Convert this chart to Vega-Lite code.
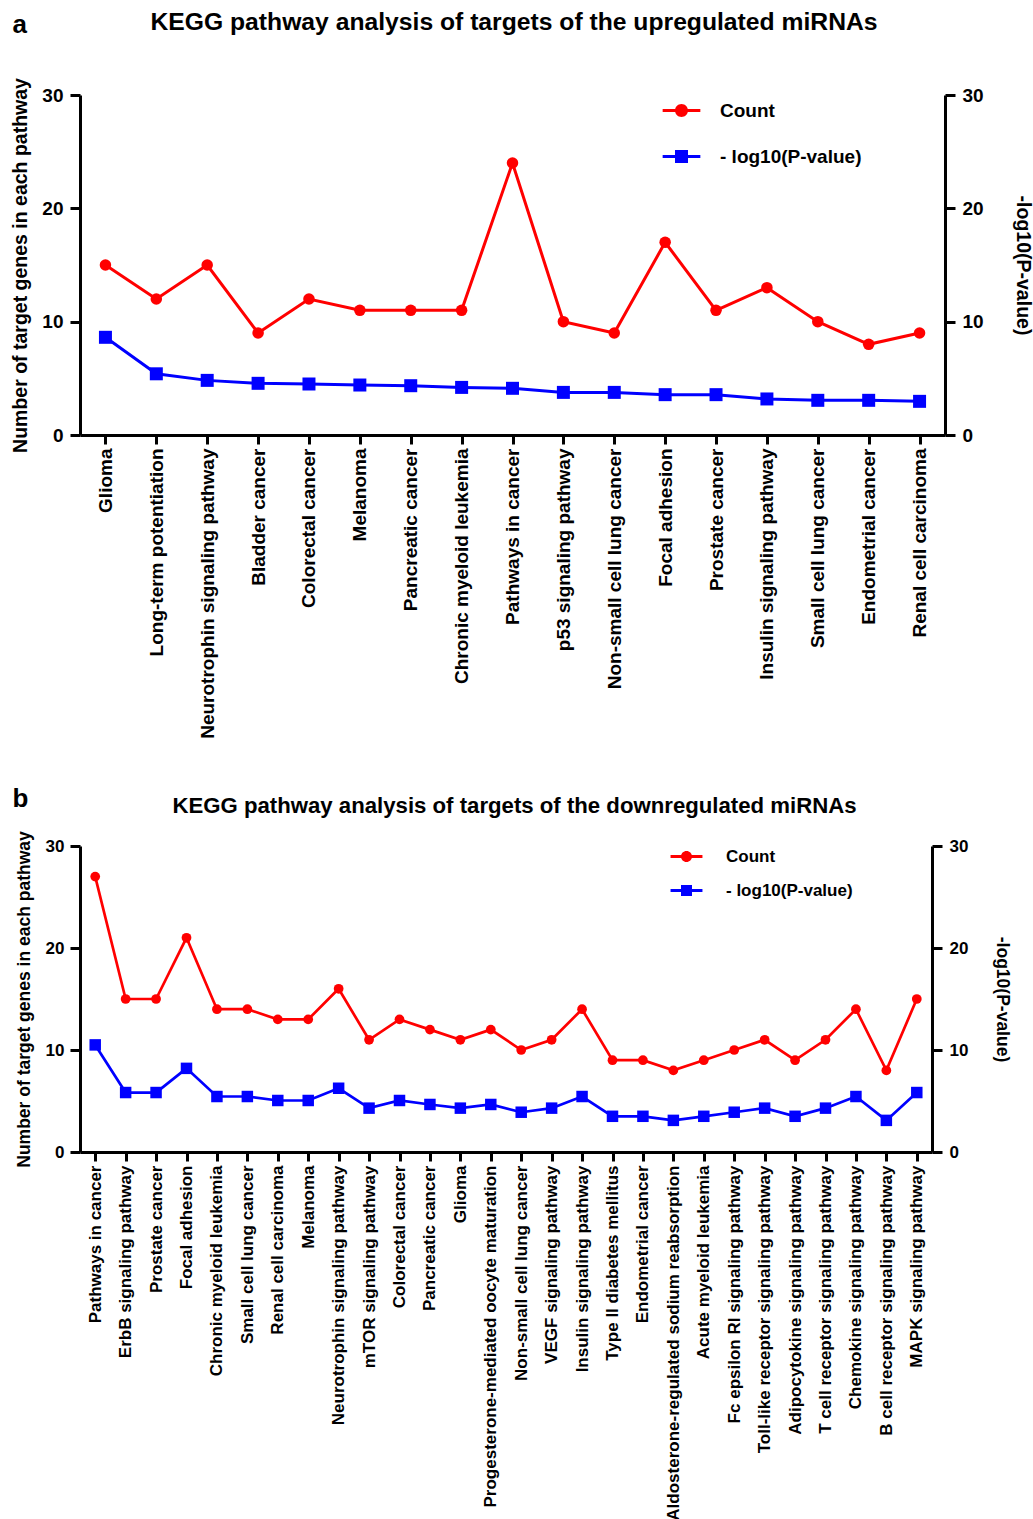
{
  "$schema": "https://vega.github.io/schema/vega-lite/v6.json",
  "padding": {"left": 10, "top": 9, "right": 2, "bottom": 0},
  "spacing": 46,
  "resolve": {"scale": {"color": "independent", "fill": "independent", "stroke": "independent"}},
  "config": {
    "font": "Liberation Sans",
    "view": {"stroke": null},
    "axis": {"domainColor": "black", "domainWidth": 3, "tickColor": "black", "tickWidth": 3, "tickSize": 10, "labelColor": "black", "labelFontWeight": "bold", "titleColor": "black", "titleFontWeight": "bold", "grid": false, "labelLimit": 600, "titleLimit": 1000, "labelFlush": false},
    "legend": {"title": null, "labelFontWeight": "bold", "labelColor": "black", "symbolStrokeWidth": 0, "symbolOpacity": 1, "orient": "none"}
  },
  "datasets": {
    "up": [
      {"pathway": "Glioma", "count": 15, "logp": 8.62},
      {"pathway": "Long-term potentiation", "count": 12, "logp": 5.4},
      {"pathway": "Neurotrophin signaling pathway", "count": 15, "logp": 4.82},
      {"pathway": "Bladder cancer", "count": 9, "logp": 4.56},
      {"pathway": "Colorectal cancer", "count": 12, "logp": 4.5},
      {"pathway": "Melanoma", "count": 11, "logp": 4.41},
      {"pathway": "Pancreatic cancer", "count": 11, "logp": 4.35},
      {"pathway": "Chronic myeloid leukemia", "count": 11, "logp": 4.2},
      {"pathway": "Pathways in cancer", "count": 24, "logp": 4.12},
      {"pathway": "p53 signaling pathway", "count": 10, "logp": 3.76},
      {"pathway": "Non-small cell lung cancer", "count": 9, "logp": 3.76},
      {"pathway": "Focal adhesion", "count": 17, "logp": 3.56},
      {"pathway": "Prostate cancer", "count": 11, "logp": 3.56},
      {"pathway": "Insulin signaling pathway", "count": 13, "logp": 3.18},
      {"pathway": "Small cell lung cancer", "count": 10, "logp": 3.06},
      {"pathway": "Endometrial cancer", "count": 8, "logp": 3.06},
      {"pathway": "Renal cell carcinoma", "count": 9, "logp": 2.97}
    ],
    "down": [
      {"pathway": "Pathways in cancer", "count": 27, "logp": 10.5},
      {"pathway": "ErbB signaling pathway", "count": 15, "logp": 5.83},
      {"pathway": "Prostate cancer", "count": 15, "logp": 5.83},
      {"pathway": "Focal adhesion", "count": 21, "logp": 8.2},
      {"pathway": "Chronic myeloid leukemia", "count": 14, "logp": 5.44},
      {"pathway": "Small cell lung cancer", "count": 14, "logp": 5.44},
      {"pathway": "Renal cell carcinoma", "count": 13, "logp": 5.05},
      {"pathway": "Melanoma", "count": 13, "logp": 5.05},
      {"pathway": "Neurotrophin signaling pathway", "count": 16, "logp": 6.25},
      {"pathway": "mTOR signaling pathway", "count": 11, "logp": 4.3},
      {"pathway": "Colorectal cancer", "count": 13, "logp": 5.05},
      {"pathway": "Pancreatic cancer", "count": 12, "logp": 4.66},
      {"pathway": "Glioma", "count": 11, "logp": 4.3},
      {"pathway": "Progesterone-mediated oocyte maturation", "count": 12, "logp": 4.66},
      {"pathway": "Non-small cell lung cancer", "count": 10, "logp": 3.9},
      {"pathway": "VEGF signaling pathway", "count": 11, "logp": 4.3},
      {"pathway": "Insulin signaling pathway", "count": 14, "logp": 5.44},
      {"pathway": "Type II diabetes mellitus", "count": 9, "logp": 3.5},
      {"pathway": "Endometrial cancer", "count": 9, "logp": 3.5},
      {"pathway": "Aldosterone-regulated sodium reabsorption", "count": 8, "logp": 3.1},
      {"pathway": "Acute myeloid leukemia", "count": 9, "logp": 3.5},
      {"pathway": "Fc epsilon RI signaling pathway", "count": 10, "logp": 3.9},
      {"pathway": "Toll-like receptor signaling pathway", "count": 11, "logp": 4.3},
      {"pathway": "Adipocytokine signaling pathway", "count": 9, "logp": 3.5},
      {"pathway": "T cell receptor signaling pathway", "count": 11, "logp": 4.3},
      {"pathway": "Chemokine signaling pathway", "count": 14, "logp": 5.44},
      {"pathway": "B cell receptor signaling pathway", "count": 8, "logp": 3.1},
      {"pathway": "MAPK signaling pathway", "count": 15, "logp": 5.83}
    ]
  },
  "vconcat": [
    {
      "data": {"name": "up"},
      "transform": [{"fold": ["count", "logp"], "as": ["key", "value"]}],
      "width": 865,
      "height": 340,
      "layer": [
        {
          "mark": {"type": "line", "strokeWidth": 3},
          "encoding": {
            "x": {"field": "pathway", "type": "nominal", "sort": null, "scale": {"type": "point", "padding": 0.5}, "axis": {"orient": "bottom", "title": null, "labelAngle": -90, "labelFontSize": 19, "labelPadding": 4, "tickSize": 9}},
            "y": {"field": "value", "type": "quantitative", "scale": {"domain": [0, 30], "nice": false}, "axis": {"orient": "left", "values": [0, 10, 20, 30], "title": "Number of target genes in each pathway", "labelFontSize": 19, "titleFontSize": 19.5, "labelPadding": 7, "titlePadding": 11}},
            "stroke": {"field": "key", "type": "nominal", "scale": {"domain": ["count", "logp"], "range": ["#ff0000", "#0000ff"]}, "legend": null}
          }
        },
        {
          "transform": [{"filter": "datum.key === 'count'"}],
          "mark": {"type": "point", "filled": true, "opacity": 1, "shape": "circle", "size": 133},
          "encoding": {
            "x": {"field": "pathway", "type": "nominal", "sort": null, "scale": {"type": "point", "padding": 0.5}, "axis": {"orient": "top", "labels": false, "ticks": false, "domain": false, "title": "a", "titleX": -68, "titleY": -63, "titleAlign": "left", "titleBaseline": "alphabetic", "titleAngle": 0, "titleFontSize": 26}},
            "y": {"field": "value", "type": "quantitative", "scale": {"domain": [0, 30], "nice": false}, "axis": null},
            "color": {"field": "key", "type": "nominal", "scale": {"domain": ["count"], "range": ["#ff0000"]},
              "legend": {"orient": "none", "legendX": 592, "legendY": 6, "labelFontSize": 19, "labelOffset": 29, "symbolSize": 169, "labelExpr": "'Count'",
                "symbolType": "M-2.9 -0.23 L2.9 -0.23 L2.9 0.23 L-2.9 0.23 Z M-1 0 A1 1 0 1 1 1 0 A1 1 0 1 1 -1 0 Z"}
            }
          }
        },
        {
          "transform": [{"filter": "datum.key === 'logp'"}],
          "mark": {"type": "point", "filled": true, "opacity": 1, "shape": "square", "size": 169},
          "encoding": {
            "x": {"field": "pathway", "type": "nominal", "sort": null, "scale": {"type": "point", "padding": 0.5}, "axis": null},
            "y": {"field": "value", "type": "quantitative", "scale": {"domain": [0, 30], "nice": false}, "axis": null},
            "fill": {"field": "key", "type": "nominal", "scale": {"domain": ["logp"], "range": ["#0000ff"]},
              "legend": {"orient": "none", "legendX": 592, "legendY": 52, "labelFontSize": 19, "labelOffset": 29, "symbolSize": 169, "labelExpr": "'- log10(P-value)'",
                "symbolType": "M-2.9 -0.23 L2.9 -0.23 L2.9 0.23 L-2.9 0.23 Z M-1 -1 L1 -1 L1 1 L-1 1 Z"}
            }
          }
        },
        {
          "mark": {"type": "point", "opacity": 0},
          "encoding": {
            "x": {"field": "pathway", "type": "nominal", "sort": null, "scale": {"type": "point", "padding": 0.5}, "axis": {"orient": "top", "labels": false, "ticks": false, "domain": false, "title": "KEGG pathway analysis of targets of the upregulated miRNAs", "titleFontSize": 24.7, "titlePadding": 61, "titleX": 433.5, "titleAlign": "center"}},
            "y": {"field": "value", "type": "quantitative", "scale": {"domain": [0, 30], "nice": false}, "axis": {"orient": "right", "values": [0, 10, 20, 30], "title": "-log10(P-value)", "labelFontSize": 19, "titleFontSize": 19.5, "labelPadding": 7, "titlePadding": 29}}
          }
        }
      ],
      "resolve": {"scale": {"y": "independent"}, "axis": {"x": "independent"}}
    },
    {
      "data": {"name": "down"},
      "transform": [{"fold": ["count", "logp"], "as": ["key", "value"]}],
      "width": 852,
      "height": 306,
      "layer": [
        {
          "mark": {"type": "line", "strokeWidth": 2.7},
          "encoding": {
            "x": {"field": "pathway", "type": "nominal", "sort": null, "scale": {"type": "point", "padding": 0.5}, "axis": {"orient": "bottom", "title": null, "labelAngle": -90, "labelFontSize": 17, "labelPadding": 4, "tickSize": 9}},
            "y": {"field": "value", "type": "quantitative", "scale": {"domain": [0, 30], "nice": false}, "axis": {"orient": "left", "values": [0, 10, 20, 30], "title": "Number of target genes in each pathway", "labelFontSize": 17, "titleFontSize": 17.5, "labelPadding": 6, "titlePadding": 12}},
            "stroke": {"field": "key", "type": "nominal", "scale": {"domain": ["count", "logp"], "range": ["#ff0000", "#0000ff"]}, "legend": null}
          }
        },
        {
          "transform": [{"filter": "datum.key === 'count'"}],
          "mark": {"type": "point", "filled": true, "opacity": 1, "shape": "circle", "size": 95},
          "encoding": {
            "x": {"field": "pathway", "type": "nominal", "sort": null, "scale": {"type": "point", "padding": 0.5}, "axis": {"orient": "top", "labels": false, "ticks": false, "domain": false, "title": "b", "titleX": -68, "titleY": -40, "titleAlign": "left", "titleBaseline": "alphabetic", "titleAngle": 0, "titleFontSize": 26}},
            "y": {"field": "value", "type": "quantitative", "scale": {"domain": [0, 30], "nice": false}, "axis": null},
            "color": {"field": "key", "type": "nominal", "scale": {"domain": ["count"], "range": ["#ff0000"]},
              "legend": {"orient": "none", "legendX": 598, "legendY": 2, "labelFontSize": 17, "labelOffset": 31, "symbolSize": 121, "labelExpr": "'Count'",
                "symbolType": "M-2.9 -0.27 L2.9 -0.27 L2.9 0.27 L-2.9 0.27 Z M-1 0 A1 1 0 1 1 1 0 A1 1 0 1 1 -1 0 Z"}
            }
          }
        },
        {
          "transform": [{"filter": "datum.key === 'logp'"}],
          "mark": {"type": "point", "filled": true, "opacity": 1, "shape": "square", "size": 132},
          "encoding": {
            "x": {"field": "pathway", "type": "nominal", "sort": null, "scale": {"type": "point", "padding": 0.5}, "axis": null},
            "y": {"field": "value", "type": "quantitative", "scale": {"domain": [0, 30], "nice": false}, "axis": null},
            "fill": {"field": "key", "type": "nominal", "scale": {"domain": ["logp"], "range": ["#0000ff"]},
              "legend": {"orient": "none", "legendX": 598, "legendY": 36, "labelFontSize": 17, "labelOffset": 31, "symbolSize": 121, "labelExpr": "'- log10(P-value)'",
                "symbolType": "M-2.9 -0.27 L2.9 -0.27 L2.9 0.27 L-2.9 0.27 Z M-1 -1 L1 -1 L1 1 L-1 1 Z"}
            }
          }
        },
        {
          "mark": {"type": "point", "opacity": 0},
          "encoding": {
            "x": {"field": "pathway", "type": "nominal", "sort": null, "scale": {"type": "point", "padding": 0.5}, "axis": {"orient": "top", "labels": false, "ticks": false, "domain": false, "title": "KEGG pathway analysis of targets of the downregulated miRNAs", "titleFontSize": 22.2, "titlePadding": 29, "titleX": 434, "titleAlign": "center"}},
            "y": {"field": "value", "type": "quantitative", "scale": {"domain": [0, 30], "nice": false}, "axis": {"orient": "right", "values": [0, 10, 20, 30], "title": "-log10(P-value)", "labelFontSize": 17, "titleFontSize": 17.5, "labelPadding": 7, "titlePadding": 25}}
          }
        }
      ],
      "resolve": {"scale": {"y": "independent"}, "axis": {"x": "independent"}}
    }
  ]
}
